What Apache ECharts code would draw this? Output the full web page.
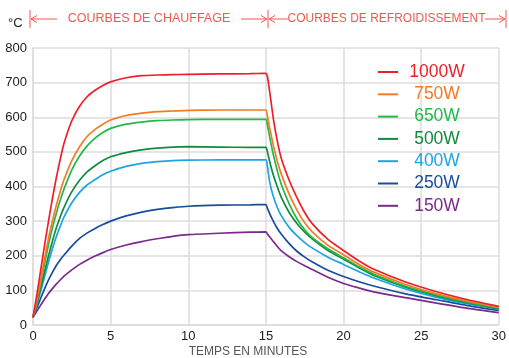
<!DOCTYPE html>
<html>
<head>
<meta charset="utf-8">
<script src="https://cdn.jsdelivr.net/npm/echarts@6/dist/echarts.min.js"></script>
<style>
html,body{margin:0;padding:0;background:#fff;}
#c{width:509px;height:358px;}
</style>
</head>
<body>
<div id="c"></div>
<script>
// time in minutes
const times = [0, 0.25, 0.5, 0.75, 1, 1.25, 1.5, 1.75, 2, 2.5, 3, 3.5, 4, 4.5, 5, 6, 7, 8, 9, 10, 12, 14, 15,
  15.1, 15.25, 15.5, 15.75, 16, 16.5, 17, 17.5, 18, 19, 20, 21, 22, 24, 26, 28, 30];

const seriesNames = ['1000W', '750W', '650W', '500W', '400W', '250W', '150W'];
const seriesColors = ['#ee1f2b', '#f57a22', '#22b84a', '#138a3e', '#1aa6e4', '#1a4c9c', '#7a2a8a'];

const temp1000 = [22, 88, 160, 232, 300, 365, 425, 478, 525, 590, 632, 660, 678, 692, 702, 714, 720, 722, 723, 724, 725, 726, 727,
  717, 672, 590, 528, 480, 418, 368, 325, 292, 247, 215, 185, 160, 124, 96, 73, 54];
const temp750 = [22, 72, 130, 192, 250, 300, 345, 385, 420, 475, 515, 545, 565, 580, 592, 605, 612, 616, 618, 620, 621, 621, 621,
  603, 567, 515, 470, 435, 378, 332, 295, 268, 230, 203, 175, 152, 117, 90, 69, 51];
const temp650 = [22, 68, 122, 178, 232, 280, 322, 360, 393, 448, 488, 518, 540, 556, 568, 580, 586, 590, 592, 593, 594, 594, 594,
  577, 541, 488, 443, 405, 350, 307, 275, 252, 220, 194, 168, 146, 112, 87, 66, 49];
const temp500 = [22, 62, 108, 155, 200, 242, 280, 312, 340, 385, 418, 443, 460, 475, 486, 498, 506, 511, 514, 515, 514, 513, 513,
  500, 471, 430, 397, 368, 325, 293, 268, 248, 215, 190, 165, 142, 109, 84, 64, 47];
const temp400 = [22, 58, 98, 140, 182, 220, 255, 285, 312, 353, 383, 405, 420, 434, 444, 458, 467, 472, 475, 476, 477, 477, 477,
  458, 412, 368, 338, 315, 282, 258, 238, 222, 196, 175, 154, 135, 104, 80, 61, 46];
const temp250 = [22, 50, 78, 105, 130, 152, 172, 188, 202, 228, 250, 266, 279, 290, 300, 315, 326, 334, 339, 343, 346, 347, 348,
  337, 321, 298, 278, 262, 235, 213, 196, 182, 158, 140, 125, 112, 90, 73, 56, 42];
const temp150 = [22, 40, 58, 75, 91, 105, 118, 130, 141, 159, 175, 188, 199, 209, 218, 231, 241, 249, 256, 261, 265, 268, 269,
  263, 254, 240, 226, 214, 197, 183, 171, 160, 138, 120, 107, 95, 79, 63, 48, 36];

const allTemps = [temp1000, temp750, temp650, temp500, temp400, temp250, temp150];

const yTicks = { min: 0, max: 800, interval: 100 };
const xTicks = { min: 0, max: 30, interval: 5 };

const chart = echarts.init(document.getElementById('c'), null, { renderer: 'canvas' });

const FONT = '"Liberation Sans", Arial, Helvetica, sans-serif';
const annotColor = '#f0584f';

const series = seriesNames.map((name, i) => ({
  name: name,
  type: 'line',
  data: times.map((t, k) => [t, allTemps[i][k]]),
  showSymbol: false,
  smooth: 0.2,
  lineStyle: { color: seriesColors[i], width: 1.7 },
  itemStyle: { color: seriesColors[i] },
  emphasis: { disabled: true },
  z: 10 - i
}));

function arrowHead(x, y, dir) {
  return {
    type: 'polyline',
    shape: { points: [[x - dir * 6, y - 3.5], [x, y], [x - dir * 6, y + 3.5]] },
    style: { stroke: annotColor, lineWidth: 1, fill: null }
  };
}
function hline(x1, x2, y) {
  return { type: 'line', shape: { x1: x1, y1: y, x2: x2, y2: y }, style: { stroke: annotColor, lineWidth: 1 } };
}
function vbar(x) {
  return { type: 'line', shape: { x1: x, y1: 10, x2: x, y2: 28 }, style: { stroke: annotColor, lineWidth: 1 } };
}
const ay = 19;

const option = {
  animation: false,
  backgroundColor: '#ffffff',
  grid: { left: 33, right: 6, top: 48, bottom: 33, containLabel: false },
  xAxis: {
    type: 'value',
    min: xTicks.min, max: xTicks.max, interval: xTicks.interval,
    axisLine: { show: true, lineStyle: { color: '#dcdcdc', width: 1.5 } },
    axisTick: { show: false },
    axisLabel: { color: '#222', fontSize: 13, fontFamily: FONT, margin: 5 },
    splitLine: { show: true, lineStyle: { color: '#dcdcdc', width: 1.5 } }
  },
  yAxis: {
    type: 'value',
    min: yTicks.min, max: yTicks.max, interval: yTicks.interval,
    axisLine: { show: true, lineStyle: { color: '#dcdcdc', width: 1.5 } },
    axisTick: { show: false },
    axisLabel: { color: '#222', fontSize: 13, fontFamily: FONT, margin: 6 },
    splitLine: { show: true, lineStyle: { color: '#dcdcdc', width: 1.5 } }
  },
  legend: {
    orient: 'vertical',
    left: 378,
    top: 63,
    padding: 0,
    itemWidth: 20,
    itemHeight: 2,
    itemGap: 4.3,
    icon: 'rect',
    selectedMode: false,
    formatter: '{a|{name}}',
    textStyle: {
      fontFamily: FONT,
      fontSize: 17.5,
      rich: { a: { width: 68, align: 'center', fontSize: 17.5, fontFamily: FONT, lineHeight: 17.5 } }
    },
    data: seriesNames.map((n, i) => ({ name: n, textStyle: { color: seriesColors[i] } }))
  },
  graphic: [
    { type: 'text', left: 8, top: 17, style: { text: '°C', fill: '#222', font: '13px ' + FONT } },
    vbar(30), vbar(268), vbar(506),
    hline(31, 57, ay), arrowHead(31, ay, -1),
    { type: 'text', x: 149, y: ay, style: { text: 'COURBES DE CHAUFFAGE', fill: annotColor, font: '12.5px ' + FONT, align: 'center', verticalAlign: 'middle' } },
    hline(241, 267, ay), arrowHead(267, ay, 1),
    hline(269, 288, ay), arrowHead(269, ay, -1),
    { type: 'text', x: 386.5, y: ay, style: { text: 'COURBES DE REFROIDISSEMENT', fill: annotColor, font: '12px ' + FONT, align: 'center', verticalAlign: 'middle' } },
    hline(485, 505, ay), arrowHead(505, ay, 1),
    { type: 'text', x: 248, y: 352, style: { text: 'TEMPS EN MINUTES', fill: '#555', font: '12px ' + FONT, align: 'center', verticalAlign: 'middle' } }
  ],
  series: series
};
chart.setOption(option);
</script>
</body>
</html>
